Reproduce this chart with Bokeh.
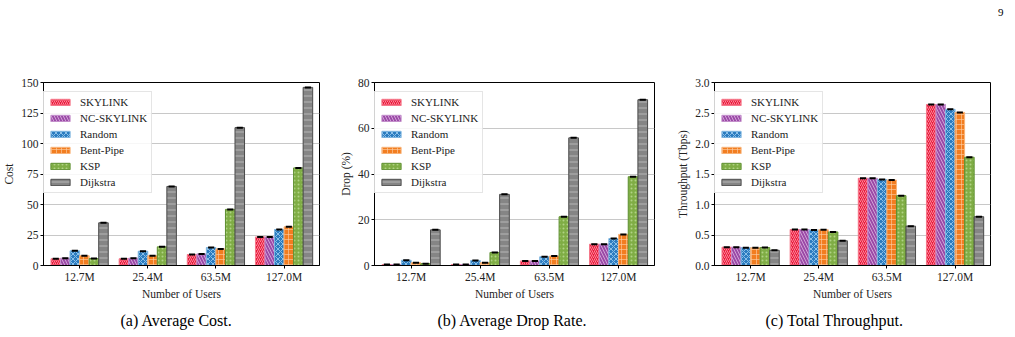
from bokeh.plotting import figure
from bokeh.models import ColumnDataSource, Range1d, FixedTicker, Legend, LegendItem, Title, Div
from bokeh.layouts import row, column
from bokeh.embed import file_html
from bokeh.resources import INLINE

# ---- data -------------------------------------------------------------
categories = ["12.7M", "25.4M", "63.5M", "127.0M"]
methods = ["SKYLINK", "NC-SKYLINK", "Random", "Bent-Pipe", "KSP", "Dijkstra"]

cost_skylink = [5.5, 5.5, 9.0, 23.4]
cost_nc_skylink = [6.0, 6.0, 9.5, 23.4]
cost_random = [12.0, 11.7, 14.7, 29.5]
cost_bent_pipe = [8.0, 8.0, 13.6, 31.7]
cost_ksp = [5.7, 15.3, 46.0, 80.0]
cost_dijkstra = [35.0, 64.8, 113.0, 146.0]

drop_skylink = [0.4, 0.4, 2.0, 9.3]
drop_nc_skylink = [0.4, 0.4, 2.0, 9.3]
drop_random = [2.3, 2.2, 3.8, 11.8]
drop_bent_pipe = [1.2, 1.2, 4.1, 13.6]
drop_ksp = [0.8, 5.7, 21.3, 38.8]
drop_dijkstra = [15.6, 31.1, 55.8, 72.5]

tput_skylink = [0.30, 0.59, 1.43, 2.64]
tput_nc_skylink = [0.30, 0.59, 1.43, 2.64]
tput_random = [0.29, 0.58, 1.41, 2.56]
tput_bent_pipe = [0.29, 0.585, 1.40, 2.51]
tput_ksp = [0.295, 0.55, 1.145, 1.775]
tput_dijkstra = [0.25, 0.405, 0.645, 0.80]

cost_ticks = [0, 25, 50, 75, 100, 125, 150]
drop_ticks = [0, 20, 40, 60, 80]
tput_ticks = [0.0, 0.5, 1.0, 1.5, 2.0, 2.5, 3.0]

# ---- styling ------------------------------------------------------------
FILL = ["#e8193c", "#9b4aa7", "#2b7cc0", "#f27d20", "#7fad45", "#858585"]
EDGE = ["#f5788a", "#c48fcc", "#7fb6e0", "#f8b47a", "#5e8f30", "#4a4a4a"]
HATCH = ["/", "\\", "x", "+", ".", "-"]
HATCH_COLOR = ["#ff9aa8", "#d9b0de", "#9ccbee", "#fcd0a8", "#b9d890", "#c0c0c0"]
HATCH_ALPHA = [0.85, 0.85, 0.85, 0.6, 0.85, 0.85]
HATCH_SCALE = [4, 6, 5, 5, 4, 6]

BAR_W = 0.14
SERIF = "Liberation Serif"
TEXT = "#222222"
HEADER_H = 26


def panel(series, ticks, tick_labels, ylabel, left, frame_w, right, caption,
          cap_offset):
    p = figure(
        x_range=Range1d(-0.53, 3.52),
        y_range=Range1d(ticks[0], ticks[-1]),
        frame_width=frame_w, frame_height=183,
        min_border_left=left, min_border_right=right,
        min_border_top=82 - HEADER_H, min_border_bottom=72,
        output_backend="svg", toolbar_location=None,
        background_fill_color="white", border_fill_color="white",
    )
    p.outline_line_color = "black"
    p.outline_line_width = 1
    p.outline_line_alpha = 1
    p.xgrid.visible = False
    p.ygrid.ticker = FixedTicker(ticks=ticks)
    p.ygrid.grid_line_color = "#c8c8c8"
    p.ygrid.grid_line_width = 1

    p.xaxis.ticker = FixedTicker(ticks=list(range(len(categories))))
    p.xaxis.major_label_overrides = {i: c for i, c in enumerate(categories)}
    p.yaxis.ticker = FixedTicker(ticks=ticks)
    p.yaxis.major_label_overrides = {t: l for t, l in zip(ticks, tick_labels)}
    for ax in (p.xaxis[0], p.yaxis[0]):
        ax.minor_tick_line_color = None
        ax.major_tick_in = 0
        ax.major_tick_out = 3
        ax.axis_line_color = "black"
        ax.major_tick_line_color = "black"
        ax.major_label_text_font = SERIF
        ax.major_label_text_font_size = "11.5px"
        ax.major_label_text_color = TEXT
        ax.major_label_standoff = 2
        ax.axis_label_text_font = SERIF
        ax.axis_label_text_font_size = "11.5px"
        ax.axis_label_text_font_style = "normal"
        ax.axis_label_text_color = TEXT
        ax.axis_label_standoff = 2
    p.yaxis.axis_label_standoff = 3
    p.xaxis.axis_label = "Number of Users"
    p.yaxis.axis_label = ylabel

    items = []
    n = len(series)
    for k, (name, vals) in enumerate(zip(methods, series)):
        xs = [i + (k - (n - 1) / 2) * BAR_W for i in range(len(categories))]
        src = ColumnDataSource(dict(x=xs, top=vals,
                                    x0=[x - 0.045 for x in xs],
                                    x1=[x + 0.045 for x in xs]))
        r = p.vbar(x="x", top="top", width=BAR_W, source=src,
                   fill_color=FILL[k], line_color=EDGE[k], line_width=1,
                   hatch_pattern=HATCH[k], hatch_color=HATCH_COLOR[k],
                   hatch_scale=HATCH_SCALE[k], hatch_weight=1,
                   hatch_alpha=HATCH_ALPHA[k])
        p.segment(x0="x0", x1="x1", y0="top", y1="top", source=src,
                  line_color="black", line_width=2)
        items.append(LegendItem(label=name, renderers=[r]))

    legend = Legend(items=items, location=(0, 72), margin=0, padding=4, spacing=4,
                    glyph_width=24, glyph_height=8, label_height=12,
                    label_standoff=8, label_text_font=SERIF,
                    label_text_font_size="11px", label_text_font_style="normal",
                    label_text_color=TEXT,
                    border_line_color="#cccccc", border_line_width=1,
                    background_fill_color="white", background_fill_alpha=0.85)
    p.add_layout(legend)

    # sub-figure caption under the axis label
    p.add_layout(Title(text=caption, align="left", offset=cap_offset,
                       standoff=14, text_font=SERIF, text_font_size="16px",
                       text_font_style="normal", text_color="black"), "below")
    return p


p1 = panel([cost_skylink, cost_nc_skylink, cost_random, cost_bent_pipe, cost_ksp,
            cost_dijkstra],
           cost_ticks, [str(t) for t in cost_ticks], "Cost",
           36, 276, 14, "(a) Average Cost.", 77)
p2 = panel([drop_skylink, drop_nc_skylink, drop_random, drop_bent_pipe, drop_ksp,
            drop_dijkstra],
           drop_ticks, [str(t) for t in drop_ticks], "Drop (%)",
           41, 280, 14, "(b) Average Drop Rate.", 63)
p3 = panel([tput_skylink, tput_nc_skylink, tput_random, tput_bent_pipe, tput_ksp,
            tput_dijkstra],
           tput_ticks, ["%.1f" % t for t in tput_ticks], "Throughput (Tbps)",
           46, 276, 32, "(c) Total Throughput.", 51)

# page number in the running header
header = Div(
    text='<div style="position:relative; width:1015px; height:%dpx;">'
         '<span style="position:absolute; left:998px; top:5px; '
         'font-family:\'Liberation Serif\', serif; font-size:11px; color:#000;">'
         '9</span></div>' % HEADER_H,
    width=1015, height=HEADER_H, margin=0)

layout = column(header, row(p1, p2, p3, spacing=0), spacing=0)
open("out.html", "w").write(file_html(layout, INLINE))
